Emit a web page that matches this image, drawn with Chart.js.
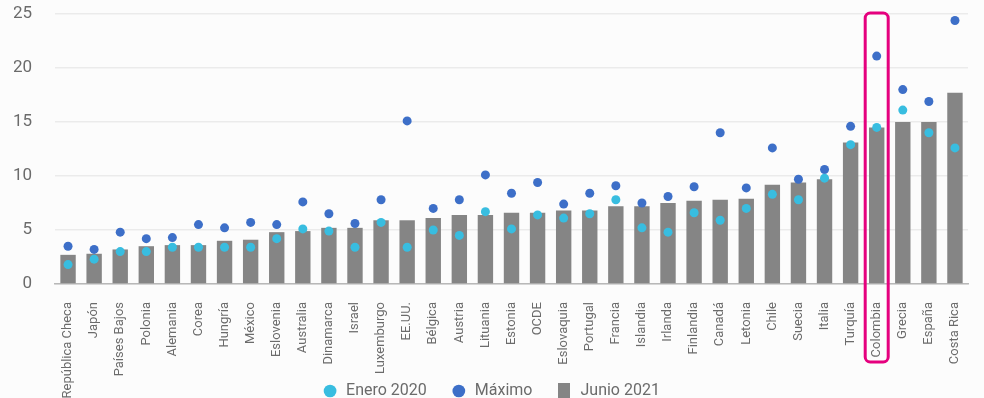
<!DOCTYPE html>
<html>
<head>
<meta charset="utf-8">
<script src="https://cdn.jsdelivr.net/npm/chart.js@4.4.1/dist/chart.umd.min.js"></script>
<style>
  html, body { margin: 0; padding: 0; background: #fcfcfc; }
  #wrap { width: 984px; height: 398px; position: relative; }
</style>
</head>
<body>
<div id="wrap"><canvas id="myChart"></canvas></div>
<script>
const paises = ['República Checa', 'Japón', 'Países Bajos', 'Polonia', 'Alemania', 'Corea', 'Hungría', 'México',
  'Eslovenia', 'Australia', 'Dinamarca', 'Israel', 'Luxemburgo', 'EE.UU.', 'Bélgica', 'Austria', 'Lituania',
  'Estonia', 'OCDE', 'Eslovaquia', 'Portugal', 'Francia', 'Islandia', 'Irlanda', 'Finlandia', 'Canadá',
  'Letonia', 'Chile', 'Suecia', 'Italia', 'Turquía', 'Colombia', 'Grecia', 'España', 'Costa Rica'];

const junio2021 = [2.7, 2.8, 3.2, 3.5, 3.6, 3.6, 4.0, 4.1, 4.8, 4.9, 5.2, 5.2, 5.9, 5.9, 6.1, 6.4, 6.4,
  6.6, 6.6, 6.8, 6.8, 7.2, 7.2, 7.5, 7.7, 7.8, 7.9, 9.2, 9.4, 9.7, 13.1, 14.5, 15.0, 15.0, 17.7];

const enero2020 = [1.8, 2.3, 3.0, 3.0, 3.4, 3.4, 3.4, 3.4, 4.2, 5.1, 4.9, 3.4, 5.7, 3.4, 5.0, 4.5, 6.7,
  5.1, 6.4, 6.1, 6.5, 7.8, 5.2, 4.8, 6.6, 5.9, 7.0, 8.3, 7.8, 9.8, 12.9, 14.5, 16.1, 14.0, 12.6];

const maximo = [3.5, 3.2, 4.8, 4.2, 4.3, 5.5, 5.2, 5.7, 5.5, 7.6, 6.5, 5.6, 7.8, 15.1, 7.0, 7.8, 10.1,
  8.4, 9.4, 7.4, 8.4, 9.1, 7.5, 8.1, 9.0, 14.0, 8.9, 12.6, 9.7, 10.6, 14.6, 21.1, 18.0, 16.9, 24.4];

const yTicks = [0, 5, 10, 15, 20, 25];
const destacado = 'Colombia';

const colorEnero = '#38bde0';
const colorMax = '#3d6fc8';
const colorBar = '#858585';
const colorMarco = '#e5007e';

// cuadro gris de la leyenda (más alto que ancho)
const cuadro = document.createElement('canvas');
cuadro.width = 12; cuadro.height = 17;
const cc = cuadro.getContext('2d');
cc.fillStyle = colorBar;
cc.fillRect(0, 0, 12, 17);

// marco alrededor de Colombia
const marcoPlugin = {
  id: 'marco',
  afterDatasetsDraw(chart) {
    const x = chart.scales.x, y = chart.scales.y;
    const cx = x.getPixelForValue(paises.indexOf(destacado));
    const top = y.getPixelForValue(25) - 1;
    const bottom = chart.chartArea.bottom + 78;
    const ctx = chart.ctx;
    ctx.save();
    ctx.strokeStyle = colorMarco;
    ctx.lineWidth = 3;
    ctx.beginPath();
    ctx.roundRect(cx - 11.5, top, 23, bottom - top, 5);
    ctx.stroke();
    ctx.restore();
  }
};

// leyenda más baja: ocupa menos alto y se dibuja encima del espacio de las etiquetas
const leyendaPlugin = {
  id: 'leyendaBaja',
  beforeInit(chart) {
    const fitOrig = chart.legend.fit;
    chart.legend.fit = function () {
      fitOrig.bind(chart.legend)();
      this.height = 25;
    };
  },
  afterLayout(chart) {
    chart.legend.top -= 14;
    chart.scales.x.bottom = chart.height;
  }
};

const ctx = document.getElementById('myChart');
new Chart(ctx, {
  type: 'bar',
  data: {
    labels: paises,
    datasets: [
      {
        type: 'line',
        label: 'Enero 2020',
        data: enero2020,
        showLine: false,
        pointRadius: 4.5,
        pointBackgroundColor: colorEnero,
        pointBorderWidth: 0,
        backgroundColor: colorEnero,
        borderColor: colorEnero,
        pointStyle: 'circle',
        order: 0
      },
      {
        type: 'line',
        label: 'Máximo',
        data: maximo,
        showLine: false,
        pointRadius: 4.5,
        pointBackgroundColor: colorMax,
        pointBorderWidth: 0,
        backgroundColor: colorMax,
        borderColor: colorMax,
        pointStyle: 'circle',
        order: 1
      },
      {
        label: 'Junio 2021',
        data: junio2021,
        backgroundColor: colorBar,
        borderWidth: 0,
        categoryPercentage: 1,
        barPercentage: 0.59,
        pointStyle: cuadro,
        order: 2
      }
    ]
  },
  options: {
    responsive: true,
    maintainAspectRatio: false,
    animation: false,
    layout: { padding: { left: 14, right: 16, top: 14, bottom: 0 } },
    plugins: {
      legend: {
        position: 'bottom',
        labels: {
          usePointStyle: true,
          boxHeight: 9,
          padding: 24,
          color: '#6b6b6b',
          font: { family: 'Roboto', size: 16 }
        }
      },
      tooltip: { enabled: false }
    },
    scales: {
      x: {
        grid: { display: false },
        border: { color: '#b8b8b8', width: 1.5 },
        ticks: {
          autoSkip: false,
          maxRotation: 90,
          minRotation: 90,
          padding: 10,
          color: '#6b6b6b',
          font: { family: "'Liberation Sans Narrow', Roboto", size: 13 }
        },
        afterFit(s) { s.height = 89; }
      },
      y: {
        min: 0,
        max: 25,
        afterBuildTicks(s) { s.ticks = yTicks.map(v => ({ value: v })); },
        grid: { color: '#ebebeb', lineWidth: 1.5, drawTicks: false },
        border: { display: false },
        ticks: {
          padding: 23,
          color: '#6b6b6b',
          font: { family: 'Roboto', size: 17 }
        },
        afterFit(s) {
          s.width = 41;
          s.paddingTop = 0;
          s.paddingBottom = 0;
        }
      }
    }
  },
  plugins: [marcoPlugin, leyendaPlugin]
});
</script>
</body>
</html>
